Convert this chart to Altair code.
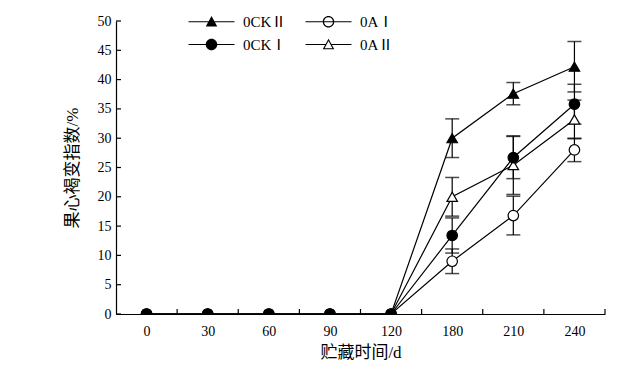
import altair as alt
import pandas as pd

days = ["0", "30", "60", "90", "120", "180", "210", "240"]
series = ["0CKⅡ", "0CKⅠ", "0AⅠ", "0AⅡ"]
draw_order = ["0AⅠ", "0AⅡ", "0CKⅡ", "0CKⅠ"]
y_ticks = [0, 5, 10, 15, 20, 25, 30, 35, 40, 45, 50]

values = {
    "0CKⅡ": [0, 0, 0, 0, 0, 30.0, 37.6, 42.2],
    "0CKⅠ": [0, 0, 0, 0, 0, 13.4, 26.7, 35.8],
    "0AⅠ": [0, 0, 0, 0, 0, 9.0, 16.8, 28.0],
    "0AⅡ": [0, 0, 0, 0, 0, 20.0, 25.4, 33.2],
}
errors = {
    "0CKⅡ": [0, 0, 0, 0, 0, 3.3, 1.9, 4.3],
    "0CKⅠ": [0, 0, 0, 0, 0, 3.0, 3.6, 3.4],
    "0AⅠ": [0, 0, 0, 0, 0, 2.1, 3.3, 2.0],
    "0AⅡ": [0, 0, 0, 0, 0, 3.3, 5.0, 3.3],
}
shapes = ["triangle-up", "circle", "circle", "triangle-up"]
fills = ["black", "black", "white", "white"]

# legend symbols (fill only, nonzero winding): line + marker, unit = 5 px
line_full = "M-4.6,-0.12H4.6V0.12H-4.6Z"
line_split = "M-4.6,-0.12H-0.55V0.12H-4.6ZM0.55,-0.12H4.6V0.12H0.55Z"
tri_full = "M0,-1.15L1.15,0.95L-1.15,0.95Z"
tri_open = tri_full + "M0,-0.7L-0.78,0.73L0.78,0.73Z"
circ_full = "M1.15,0A1.15,1.15 0 1,1 -1.15,0A1.15,1.15 0 1,1 1.15,0Z"
circ_open = circ_full + "M0.9,0A0.9,0.9 0 1,0 -0.9,0A0.9,0.9 0 1,0 0.9,0Z"
legend_paths = [
    line_full + tri_full,
    line_full + circ_full,
    line_full + circ_open,
    line_split + tri_open,
]

rows = []
for s in draw_order:
    for d, v, e in zip(days, values[s], errors[s]):
        rows.append({"series": s, "day": d, "value": v, "lo": v - e, "hi": v + e, "err": e})
df = pd.DataFrame(rows)
ytick_df = pd.DataFrame({"v": y_ticks})
xtick_df = pd.DataFrame({"day": days})

W, H = 489, 293
FONT = "Liberation Serif, Noto Sans CJK SC"

xscale = alt.Scale(type="band", domain=days, paddingInner=0, paddingOuter=0)
yscale = alt.Scale(domain=[0, 50], nice=False)

x_main = alt.X("day:N", scale=xscale, title="贮藏时间/d",
               axis=alt.Axis(tickBand="extent", tickSize=0, labelAngle=0, labelPadding=10,
                             titlePadding=6))
y_main = alt.Y("value:Q", scale=yscale, title="果心褐变指数/%",
               axis=alt.Axis(values=y_ticks, tickSize=0, labelPadding=5, titlePadding=16))
x_plain = alt.X("day:N", scale=xscale, axis=None)

base = alt.Chart(df)

lines = base.mark_line(color="black", strokeWidth=1.2).encode(
    x=x_main, y=y_main, detail="series:N"
)

# inward-pointing ticks
ytick_marks = alt.Chart(ytick_df).mark_rule(color="black", strokeWidth=1.2).encode(
    y=alt.Y("v:Q", scale=yscale, axis=None), x=alt.value(0), x2=alt.value(5)
)
xtick_marks = alt.Chart(xtick_df).mark_rule(color="black", strokeWidth=1.2).encode(
    x=alt.X("day:N", scale=xscale, axis=None, bandPosition=1),
    y=alt.value(H), y2=alt.value(H - 5)
)

err_df = base.transform_filter("datum.err > 0")
rules = err_df.mark_rule(color="black", strokeWidth=1.2).encode(
    x=x_plain, y=alt.Y("lo:Q", scale=yscale, axis=None), y2="hi:Q"
)
caps_hi = err_df.mark_tick(color="black", size=14, thickness=1.5).encode(
    x=x_plain, y=alt.Y("hi:Q", scale=yscale, axis=None)
)
caps_lo = err_df.mark_tick(color="black", size=14, thickness=1.5).encode(
    x=x_plain, y=alt.Y("lo:Q", scale=yscale, axis=None)
)

points = base.mark_point(filled=True, stroke="black", strokeWidth=1.2, size=110,
                         opacity=1, clip=True).encode(
    x=x_plain,
    y=alt.Y("value:Q", scale=yscale, axis=None),
    shape=alt.Shape("series:N", scale=alt.Scale(domain=series, range=shapes), legend=None),
    fill=alt.Fill("series:N", scale=alt.Scale(domain=series, range=fills), legend=None),
)

legend_layer = base.transform_filter("false").mark_point(
    filled=True, color="black", opacity=1).encode(
    x=x_plain,
    y=alt.Y("value:Q", scale=yscale, axis=None),
    shape=alt.Shape("series:N", scale=alt.Scale(domain=series, range=legend_paths),
                    legend=alt.Legend(
                        title=None, orient="none", legendX=88, legendY=-7, columns=2,
                        symbolSize=100, symbolFillColor="black", symbolStrokeWidth=0,
                        symbolOpacity=1, labelFont=FONT, labelFontSize=15,
                        labelColor="black", labelOffset=24, columnPadding=18,
                        rowPadding=7)),
)

chart = alt.layer(lines, ytick_marks, xtick_marks, rules, caps_hi, caps_lo, points,
                  legend_layer).resolve_scale(shape="independent").resolve_axis(
    x="independent", y="independent").properties(
    width=W, height=H,
    padding={"left": 55, "top": 6, "right": 5, "bottom": 2},
    background="white",
).configure_view(stroke=None).configure_axis(
    domainColor="black", domainWidth=1.2, tickColor="black", tickWidth=1.2,
    labelFont=FONT, labelFontSize=14, labelColor="black",
    titleFont=FONT, titleFontSize=17, titleColor="black", titleFontWeight="normal",
    grid=False,
)

chart.save("out.html", embed_options={"renderer": "svg", "actions": False})
